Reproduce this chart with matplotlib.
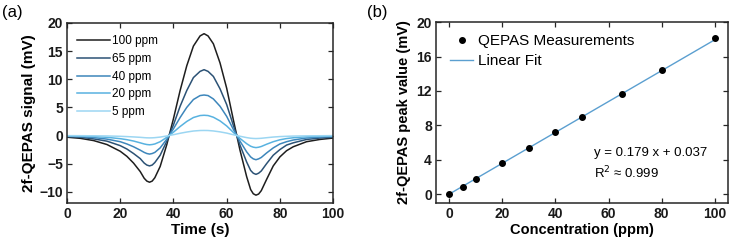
import numpy as np
import matplotlib
matplotlib.use('Agg')
import matplotlib.pyplot as plt

plt.rcParams['font.family'] = ['Liberation Sans', 'DejaVu Sans']

# (a) 2f-QEPAS signal vs time
time_s = [0, 5, 10, 15, 20, 22.5, 25, 27.5, 29, 30, 31, 32, 33, 35, 37.5, 40, 42.5, 45, 47.5, 50,
          51.5, 53, 55, 57.5, 60, 62.5, 65, 67.5, 69, 70, 71, 72, 73, 75, 77.5, 80, 82.5, 85, 90, 95, 100]
sig_100 = [-0.3, -0.5, -0.9, -1.6, -2.8, -3.7, -4.9, -6.4, -7.6, -8.1, -8.3, -8.1, -7.5, -5.5, -1.6, 3.0,
           8.0, 12.4, 15.9, 17.7, 18.1, 17.7, 16.3, 12.9, 8.4, 2.8, -2.6, -7.3, -9.6, -10.35, -10.6, -10.4,
           -9.8, -7.8, -5.4, -3.8, -2.7, -2.0, -1.1, -0.7, -0.45]
sig_65 = [-0.2, -0.3, -0.6, -1.0, -1.8, -2.4, -3.2, -4.1, -4.9, -5.25, -5.4, -5.25, -4.8, -3.5, -1.0, 1.9,
          5.2, 8.0, 10.3, 11.4, 11.7, 11.4, 10.5, 8.3, 5.5, 1.8, -1.7, -4.7, -6.2, -6.7, -6.9, -6.7,
          -6.3, -5.0, -3.5, -2.5, -1.7, -1.3, -0.7, -0.45, -0.3]
sig_40 = [-0.12, -0.2, -0.36, -0.64, -1.1, -1.5, -2.0, -2.6, -3.0, -3.2, -3.3, -3.2, -3.0, -2.2, -0.64, 1.2,
          3.2, 5.0, 6.4, 7.1, 7.2, 7.1, 6.5, 5.2, 3.4, 1.1, -1.0, -2.9, -3.8, -4.15, -4.3, -4.15,
          -3.9, -3.1, -2.2, -1.5, -1.1, -0.8, -0.44, -0.28, -0.18]
sig_20 = [-0.06, -0.1, -0.18, -0.32, -0.56, -0.74, -0.98, -1.3, -1.5, -1.6, -1.65, -1.6, -1.5, -1.1, -0.32, 0.6,
          1.6, 2.5, 3.2, 3.55, 3.6, 3.55, 3.25, 2.6, 1.7, 0.56, -0.52, -1.45, -1.9, -2.07, -2.15, -2.08,
          -1.95, -1.55, -1.1, -0.76, -0.54, -0.4, -0.22, -0.14, -0.09]
sig_5 = [-0.02, -0.03, -0.05, -0.08, -0.14, -0.19, -0.25, -0.32, -0.38, -0.41, -0.42, -0.41, -0.38, -0.28, -0.08, 0.15,
         0.4, 0.62, 0.8, 0.89, 0.9, 0.89, 0.81, 0.65, 0.43, 0.14, -0.13, -0.37, -0.48, -0.52, -0.54, -0.52,
         -0.49, -0.39, -0.27, -0.19, -0.14, -0.1, -0.06, -0.04, -0.02]
series_labels = ['100 ppm', '65 ppm', '40 ppm', '20 ppm', '5 ppm']
series_colors = ['#1e1e1e', '#2c5275', '#3d86bb', '#58b2e0', '#9cd6f2']

# (b) peak value vs concentration
conc_ppm = [0, 5, 10, 20, 30, 40, 50, 65, 80, 100]
peak_mv = [0.05, 0.9, 1.8, 3.6, 5.4, 7.2, 9.0, 11.7, 14.4, 18.2]
fit_slope = 0.179
fit_icept = 0.037

fig = plt.figure(figsize=(7.31, 2.42), dpi=100)
ax1 = fig.add_axes([0.0917, 0.161, 0.364, 0.744])
ax2 = fig.add_axes([0.5964, 0.161, 0.3995, 0.748])

spine_col = '#262626'
for ax in (ax1, ax2):
    for sp in ax.spines.values():
        sp.set_linewidth(1.1)
        sp.set_color(spine_col)
    ax.tick_params(direction='in', length=3.5, width=0.9, top=True, right=True,
                   labelsize=10, colors=spine_col, labelcolor='#1a1a1a', pad=3)

# panel (a)
all_sig = [sig_100, sig_65, sig_40, sig_20, sig_5]
for sig, lab, col in zip(all_sig, series_labels, series_colors):
    ax1.plot(time_s, sig, color=col, lw=1.1, label=lab)
ax1.set_xlim(0, 100)
ax1.set_ylim(-12, 20)
ax1.set_xticks(np.arange(0, 101, 20))
ax1.set_yticks(np.arange(-10, 21, 5))
ax1.set_xlabel('Time (s)', fontsize=11, fontweight='bold', labelpad=1)
ax1.set_ylabel('2f-QEPAS signal (mV)', fontsize=11, fontweight='bold', labelpad=2)
ax1.legend(loc='upper left', bbox_to_anchor=(0.03, 0.944), frameon=False, fontsize=8.5,
           handlelength=2.8, handletextpad=0.1, labelspacing=0.48, borderpad=0.2,
           borderaxespad=0)

# panel (b)
ax2.plot(conc_ppm, peak_mv, 'o', color='black', ms=4, label='QEPAS Measurements', zorder=3)
fit_x = np.array([conc_ppm[0], conc_ppm[-1]])
ax2.plot(fit_x, fit_slope * fit_x + fit_icept, color='#5b9fd0', lw=1.0, label='Linear Fit')
ax2.set_xlim(-5, 105)
ax2.set_ylim(-1, 20)
ax2.set_xticks(np.arange(0, 101, 20))
ax2.set_yticks(np.arange(0, 21, 4))
ax2.set_xlabel('Concentration (ppm)', fontsize=10.5, fontweight='bold', labelpad=1)
ax2.set_ylabel('2f-QEPAS peak value (mV)', fontsize=10.5, fontweight='bold', labelpad=4)
ax2.legend(loc='upper left', bbox_to_anchor=(0.038, 0.95), frameon=False, fontsize=11,
           handlelength=1.5, handletextpad=0.33, labelspacing=0.38, borderpad=0.2,
           borderaxespad=0)
ax2.text(54.5, 4.8, 'y = 0.179 x + 0.037', fontsize=9.5, va='center', ha='left')
ax2.text(54.5, 2.5, 'R$^2$ \u2248 0.999', fontsize=9.5, va='center', ha='left')

for ax in (ax1, ax2):
    for lab in ax.get_xticklabels() + ax.get_yticklabels():
        lab.set_fontweight('bold')

fig.text(0.003, 0.95, '(a)', fontsize=12, va='center', ha='left')
fig.text(0.502, 0.95, '(b)', fontsize=12, va='center', ha='left')

fig.savefig('out.png', dpi=100)
